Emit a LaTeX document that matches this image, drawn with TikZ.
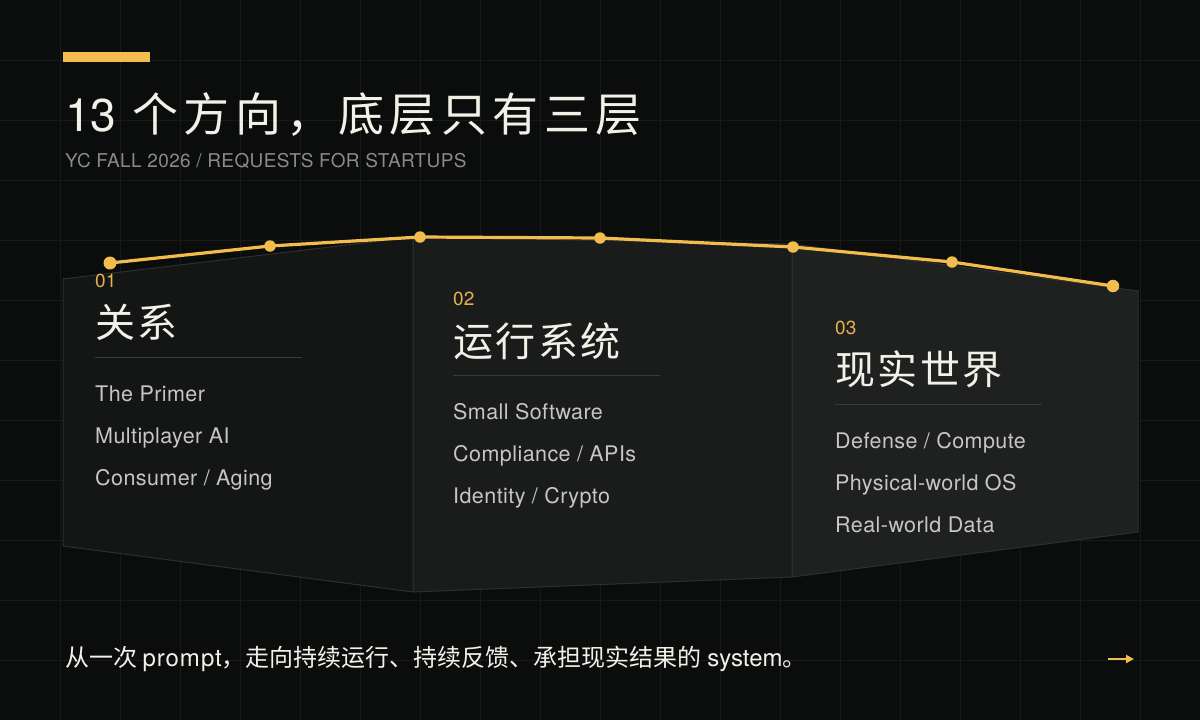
\documentclass[tikz,border=0pt]{standalone}
\usepackage{fontspec}
\setmainfont{Noto Sans CJK SC}
\newfontfamily\titlefont[LetterSpace=12]{Noto Sans CJK SC}
\newfontfamily\headfont[LetterSpace=6]{Noto Sans CJK SC}
\newfontfamily\lat{TeX Gyre Heros}
\newfontfamily\latsp[LetterSpace=2]{TeX Gyre Heros}
\newfontfamily\latwide[LetterSpace=4]{TeX Gyre Heros}
\usetikzlibrary{arrows.meta}
\definecolor{bgcol}{HTML}{0B0C0C}
\definecolor{gridcol}{HTML}{19191A}
\definecolor{panelA}{HTML}{141515}
\definecolor{panelB}{HTML}{1A1B1B}
\definecolor{panelC}{HTML}{1F2020}
\definecolor{edgecol}{HTML}{2E2F2F}
\definecolor{accent}{HTML}{F2BC4E}
\definecolor{numcol}{HTML}{E3B34E}
\definecolor{titlecol}{HTML}{F3F0E8}
\definecolor{itemcol}{HTML}{C6C6C2}
\definecolor{subcol}{HTML}{8A8A86}
\definecolor{sepcol}{HTML}{3A3B3B}
\tikzset{
  maintitle/.style={anchor=base west, inner sep=0, text=titlecol, font=\titlefont\fontsize{46}{52}\selectfont},
  subtitle/.style={anchor=base west, inner sep=0, text=subcol, font=\latsp\fontsize{19}{22}\selectfont},
  numlabel/.style={anchor=base west, inner sep=0, text=numcol, font=\lat\fontsize{19}{22}\selectfont},
  headlabel/.style={anchor=west, inner sep=0, text=titlecol, font=\headfont\fontsize{40}{46}\selectfont},
  itemlabel/.style={anchor=base west, inner sep=0, text=itemcol, font=\latsp\fontsize{21.5}{24}\selectfont},
  footlabel/.style={anchor=base west, inner sep=0, text=titlecol, font=\fontsize{24}{28}\selectfont},
  panel/.style={draw=edgecol, line width=1},
  sepline/.style={draw=sepcol, line width=1},
  dot/.style={circle, fill=accent, inner sep=0, minimum size=#1},
  dot/.default=11.5
}
\begin{document}
\begin{tikzpicture}[x=1pt, y=-1pt]
\useasboundingbox (0,0) rectangle (1200,720);
\fill[bgcol] (0,0) rectangle (1200,720);
% grid
\foreach \gx in {60,120,...,1140} \draw[gridcol, line width=1] (\gx,0) -- (\gx,720);
\foreach \gy in {60,120,...,660} \draw[gridcol, line width=1] (0,\gy) -- (1200,\gy);
% panels
\path[panel, fill=panelC] (792,244) -- (1138,291) -- (1138,532) -- (792,577) -- cycle;
\path[panel, fill=panelB] (413,237) -- (792,244) -- (792,577) -- (413,592) -- cycle;
\path[panel, fill=panelA] (63,279) -- (413,237) -- (413,592) -- (63,546) -- cycle;
% top bar and title
\fill[accent] (63,52) rectangle (150,62);
\node[maintitle] (title) at (65,131) {{\lat 13} 个方向，底层只有三层};
\node[subtitle] (sub) at (65,167) {YC FALL 2026 / REQUESTS FOR STARTUPS};
% curve
\coordinate (c1) at (110,263);
\coordinate (c2) at (270,246);
\coordinate (c3) at (420,237);
\coordinate (c4) at (600,238);
\coordinate (c5) at (793,247);
\coordinate (c6) at (952,262);
\coordinate (c7) at (1113,286);
\draw[accent, line width=3.2, line join=round] (c1) -- (c2) -- (c3) -- (c4) -- (c5) -- (c6) -- (c7);
\node[dot=13] (d1) at (c1) {};
\node[dot] (d2) at (c2) {};
\node[dot] (d3) at (c3) {};
\node[dot] (d4) at (c4) {};
\node[dot] (d5) at (c5) {};
\node[dot] (d6) at (c6) {};
\node[dot=12.5] (d7) at (c7) {};
% panel 1
\node[numlabel] (n1) at (95,287) {01};
\node[headlabel] (h1) at (95,322.5) {关系};
\coordinate (s1a) at (95,357); \coordinate (s1b) at (302,357);
\draw[sepline] (s1a) -- (s1b);
\node[itemlabel] (i11) at (95,401) {The Primer};
\node[itemlabel] (i12) at (95,443) {Multiplayer AI};
\node[itemlabel] (i13) at (95,485) {Consumer / Aging};
% panel 2
\node[numlabel] (n2) at (453,305.5) {02};
\node[headlabel] (h2) at (453,341) {运行系统};
\coordinate (s2a) at (453,375.5); \coordinate (s2b) at (660,375.5);
\draw[sepline] (s2a) -- (s2b);
\node[itemlabel] (i21) at (453,419.5) {Small Software};
\node[itemlabel] (i22) at (453,461.5) {Compliance / APIs};
\node[itemlabel] (i23) at (453,503.5) {Identity / Crypto};
% panel 3
\node[numlabel] (n3) at (835,334) {03};
\node[headlabel] (h3) at (835,369.5) {现实世界};
\coordinate (s3a) at (835,404); \coordinate (s3b) at (1042,404);
\draw[sepline] (s3a) -- (s3b);
\node[itemlabel] (i31) at (835,448) {Defense / Compute};
\node[itemlabel] (i32) at (835,490) {Physical-world OS};
\node[itemlabel] (i33) at (835,532) {Real-world Data};
% footer
\node[footlabel] (foot) at (65,666) {从一次 {\latwide prompt}，走向持续运行、持续反馈、承担现实结果的 {\lat system}。};
\coordinate (a1) at (1108,659); \coordinate (a2) at (1134,659);
\draw[accent, line width=2, -{Triangle[length=8,width=8]}] (a1) -- (a2);
\end{tikzpicture}
\end{document}
